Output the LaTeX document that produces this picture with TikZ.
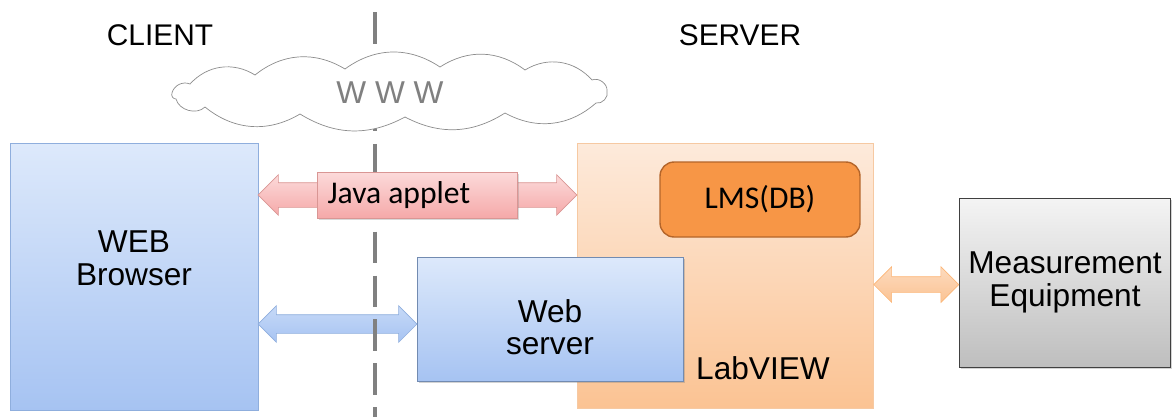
\documentclass[tikz,border=0pt]{standalone}
\usepackage{fontspec}
\setmainfont{Liberation Sans}
\newfontfamily\calib{Carlito}
\usetikzlibrary{shapes,shapes.arrows,shadows,calc}

\definecolor{bluetop}{HTML}{DDE9FB}
\definecolor{bluebot}{HTML}{A6C3F2}
\definecolor{blueedge}{HTML}{8FAEDD}
\definecolor{peachtop}{HTML}{FDEADB}
\definecolor{peachbot}{HTML}{FBC393}
\definecolor{peachedge}{HTML}{F6C9A2}
\definecolor{lmsfill}{HTML}{F79646}
\definecolor{lmsedge}{HTML}{B4652A}
\definecolor{graytop}{HTML}{F4F4F4}
\definecolor{graybot}{HTML}{BEBEBE}
\definecolor{pinktop}{HTML}{FCDADA}
\definecolor{pinkbot}{HTML}{F5A9A9}
\definecolor{pinkedge}{HTML}{D99694}

\tikzstyle{bluebox}=[rectangle,draw=blueedge,top color=bluetop,bottom color=bluebot,inner sep=0pt]
\tikzstyle{peachbox}=[rectangle,draw=peachedge,top color=peachtop,bottom color=peachbot,inner sep=0pt]
\tikzstyle{dbbox}=[rectangle,rounded corners=8pt,draw=lmsedge,thick,fill=lmsfill,inner sep=0pt,font=\fontsize{18}{18}\calib]
\tikzstyle{devbox}=[rectangle,draw=black!75,top color=graytop,bottom color=graybot,inner sep=0pt]
\tikzstyle{fatarrow}=[double arrow,double arrow tip angle=90,inner xsep=0pt,minimum width=0pt]
\tikzstyle{divider}=[draw=black!50,line width=2.3pt,dash pattern=on 18pt off 7pt]
\tikzstyle{title}=[font=\fontsize{17}{17}\selectfont]

\begin{document}
\begin{tikzpicture}[x=0.02cm,y=0.02cm,font=\fontsize{18}{18.5}\selectfont]
\useasboundingbox (0,0) rectangle (1174,-417);

	\node[title] (client) at (160,-35) {CLIENT};
	\node[title] (server) at (740,-35) {SERVER};

	\node[bluebox,minimum width=4.96cm,minimum height=5.34cm] (browser) at (134,-276.5) {};
	\node[align=center] (browserlbl) at ($(browser.center)+(0,18)$) {WEB\\Browser};

	\node[peachbox,minimum width=5.92cm,minimum height=5.3cm] (labview) at (725,-275.5) {};
	\node (labviewlbl) at (763,-368) {LabVIEW};
	\node[dbbox,minimum width=4cm,minimum height=1.5cm] (lms) at (760,-199.5) {LMS(DB)};

	\node[bluebox,draw=blueedge!80!black,minimum width=5.32cm,minimum height=2.48cm,
	      drop shadow={shadow xshift=1pt,shadow yshift=-1pt,opacity=.35}]
	      (websrv) at (550,-319) {};
	\node[align=center] (websrvlbl) at ($(websrv.center)+(0,-8)$) {Web\\server};

	\node[devbox,minimum width=4.22cm,minimum height=3.38cm,
	      drop shadow={shadow xshift=1pt,shadow yshift=-1pt,opacity=.35}]
	      (meas) at (1065,-282.5) {};
	\node[align=center] (measlbl) at (meas.center) {Measurement\\Equipment};

  % links between client and server
	\node[fatarrow,draw=blueedge,top color=bluetop!60!bluebot,bottom color=bluebot,
	      inner ysep=0.18cm,double arrow head extend=0.18cm,minimum height=3.18cm]
	      (httparrow) at ($(browser.east |- 0,-324)!.5!(websrv.west |- 0,-324)$) {};
	\draw[divider] (375,-12) -- (375,-417);
	\path[draw=black!45,fill=white] (172,-93)
	  to[bend left=50] (190,-84) to[bend left=40] (255,-75) to[bend left=35] (345,-69)
	  to[bend left=35] (440,-67) to[bend left=35] (525,-70) to[bend left=40] (592,-80)
	  to[bend left=60] (607,-91) to[bend left=60] (596,-103) to[bend left=35] (505,-113)
	  to[bend left=30] (405,-117) to[bend left=30] (300,-114) to[bend left=35] (205,-107)
	  to[bend left=60] (176,-99) to[bend left=60] cycle;
	\node[text=black!50] (www) at (390,-93) {W W W};
	\node[fatarrow,draw=pinkedge,top color=pinktop,bottom color=pinkbot,
	      inner ysep=0.24cm,double arrow head extend=0.16cm,minimum height=6.38cm]
	      (javaarrow) at ($(browser.east |- 0,-195)!.5!(labview.west |- 0,-195)$) {};
	\node[rectangle,draw=pinkedge,top color=pinktop,bottom color=pinkbot,
	      minimum width=4cm,minimum height=0.92cm,
	      drop shadow={shadow xshift=1pt,shadow yshift=-1pt,opacity=.3}]
	      (java) at (javaarrow.center) {};
	\node[anchor=west,inner sep=0pt,font=\fontsize{18}{18}\calib] (javalbl)
	      at ($(java.west)+(10,0)$) {Java applet};

  % link to the equipment
	\node[fatarrow,draw=peachbot!80!orange,top color=peachtop!60!peachbot,bottom color=peachbot,
	      inner ysep=0.15cm,double arrow head extend=0.2cm,minimum height=1.7cm]
	      (devarrow) at ($(labview.east |- 0,-284.5)!.5!(meas.west |- 0,-284.5)$) {};
\end{tikzpicture}
\end{document}
